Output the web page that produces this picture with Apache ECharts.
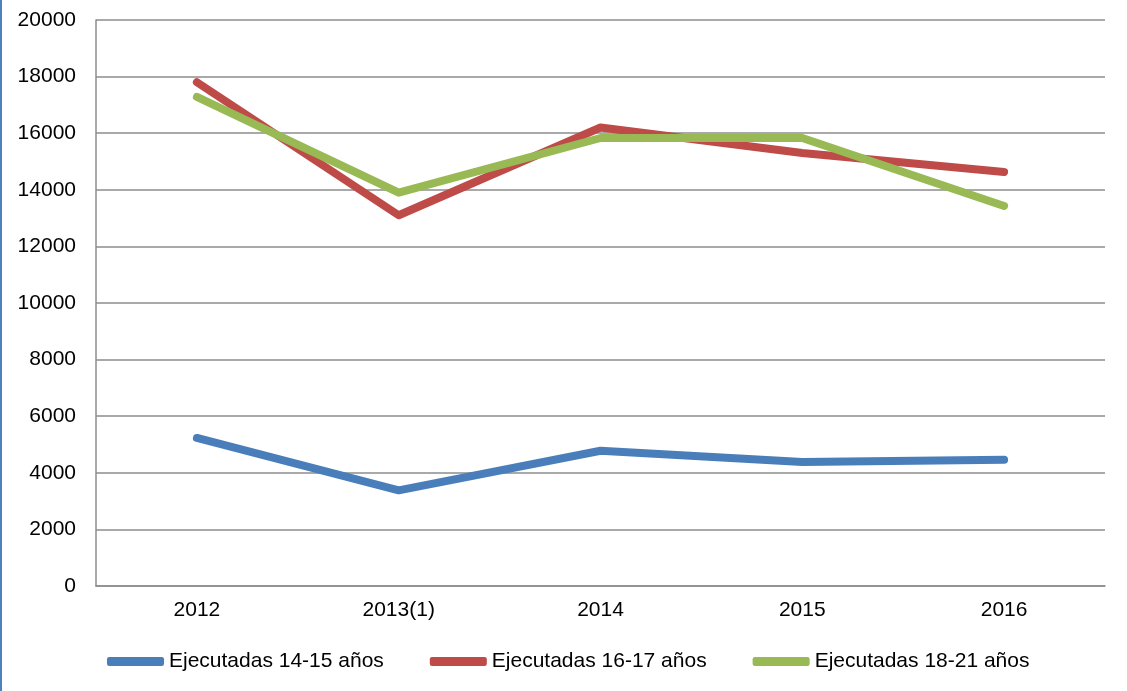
<!DOCTYPE html>
<html>
<head>
<meta charset="utf-8">
<script src="https://cdn.jsdelivr.net/npm/echarts@6/dist/echarts.min.js"></script>
<style>
html,body{margin:0;padding:0;background:#fff;}
#chart{width:1127px;height:691px;}
</style>
</head>
<body>
<div id="chart"></div>
<script>
const categories = ['2012', '2013(1)', '2014', '2015', '2016'];
const seriesNames = ['Ejecutadas 14-15 años', 'Ejecutadas 16-17 años', 'Ejecutadas 18-21 años'];
const ejecutadas1415 = [5230, 3380, 4780, 4380, 4460];
const ejecutadas1617 = [17800, 13100, 16200, 15300, 14630];
const ejecutadas1821 = [17280, 13900, 15830, 15830, 13430];
const yTicks = { min: 0, max: 20000, interval: 2000 };

const colors = ['#4a7ebb', '#be4b48', '#98b954'];
const font = '"Liberation Sans", Arial, sans-serif';
const chart = echarts.init(document.getElementById('chart'), null, { renderer: 'canvas' });

function mkSeries(name, data, color) {
  return {
    name: name,
    type: 'line',
    data: data,
    symbol: 'none',
    smooth: false,
    lineStyle: { width: 8, color: color, cap: 'round', join: 'round' },
    itemStyle: { color: color },
    emphasis: { disabled: true }
  };
}

chart.setOption({
  animation: false,
  backgroundColor: '#ffffff',
  textStyle: { fontFamily: font },
  graphic: [{
    type: 'rect',
    shape: { x: 0, y: 0, width: 2, height: 691 },
    style: { fill: '#4f81bd' },
    silent: true
  }],
  grid: { left: 96, right: 22, top: 20, bottom: 105, containLabel: false },
  legend: {
    left: 107,
    top: 651,
    padding: 0,
    itemWidth: 57,
    itemHeight: 9,
    itemGap: 46,
    icon: 'roundRect',
    textStyle: { fontSize: 21, color: '#000', fontFamily: font },
    data: seriesNames
  },
  xAxis: {
    type: 'category',
    data: categories,
    boundaryGap: true,
    axisLine: { show: true, lineStyle: { color: '#8c8c8c', width: 1.5 } },
    axisTick: { show: false },
    axisLabel: { color: '#000', fontSize: 21, fontFamily: font, margin: 14 },
    splitLine: { show: false }
  },
  yAxis: {
    type: 'value',
    min: yTicks.min,
    max: yTicks.max,
    interval: yTicks.interval,
    axisLine: { show: true, lineStyle: { color: '#8c8c8c', width: 1.5 } },
    axisTick: { show: false },
    axisLabel: { color: '#000', fontSize: 21, fontFamily: font, margin: 20, formatter: function (v) { return String(v); } },
    splitLine: { show: true, lineStyle: { color: '#8c8c8c', width: 1.5 } }
  },
  series: [
    mkSeries(seriesNames[0], ejecutadas1415, colors[0]),
    mkSeries(seriesNames[1], ejecutadas1617, colors[1]),
    mkSeries(seriesNames[2], ejecutadas1821, colors[2])
  ]
});
</script>
</body>
</html>
